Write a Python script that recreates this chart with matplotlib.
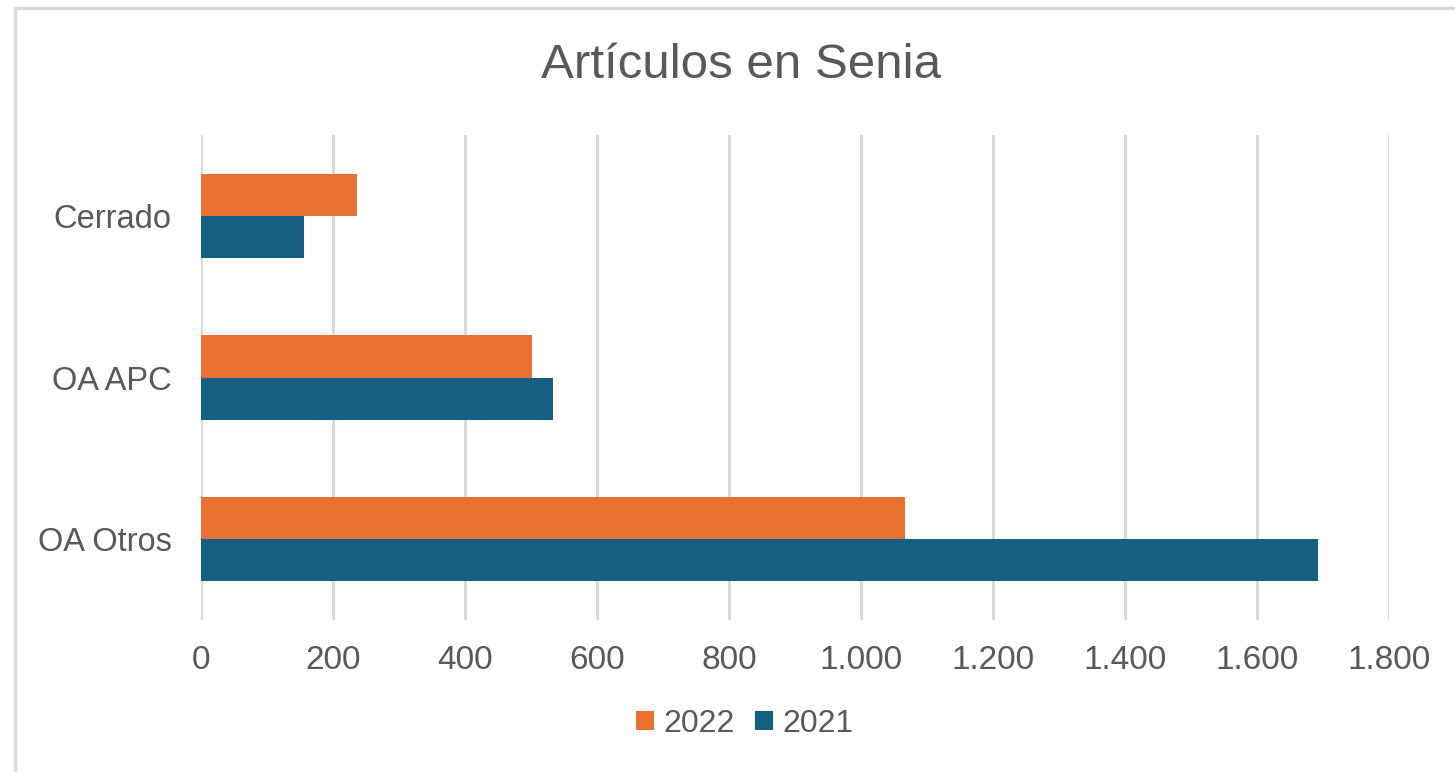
import matplotlib
matplotlib.use("Agg")
import matplotlib.pyplot as plt
import numpy as np
from matplotlib.patches import Rectangle

categories = ["OA Otros", "OA APC", "Cerrado"]
values_2022 = [1067, 501, 236]
values_2021 = [1692, 533, 156]
series_labels = ["2022", "2021"]
xticks = [0, 200, 400, 600, 800, 1000, 1200, 1400, 1600, 1800]
xtick_labels = ["0", "200", "400", "600", "800", "1.000", "1.200", "1.400", "1.600", "1.800"]

orange = "#E97132"
blue = "#156082"
text_color = "#595959"
grid_color = "#D9D9D9"

plt.rcParams['font.family'] = ['Liberation Sans', 'DejaVu Sans']

fig = plt.figure(figsize=(14.55, 7.72), dpi=100)
ax = fig.add_axes([201/1455, 1-620/772, (1389-201)/1455, (620-135)/772])

y = np.arange(len(categories))
h = 0.26
ax.barh(y + h/2, values_2022, height=h, color=orange, label=series_labels[0], zorder=3)
ax.barh(y - h/2, values_2021, height=h, color=blue, label=series_labels[1], zorder=3)

ax.set_xlim(0, 1800)
ax.set_ylim(-0.5, 2.5)
ax.set_xticks(xticks)
ax.set_xticklabels(xtick_labels)
ax.set_yticks(y)
ax.set_yticklabels(categories)
ax.tick_params(axis='x', length=0, pad=18, labelsize=24, labelcolor=text_color)
ax.tick_params(axis='y', length=0, pad=21, labelsize=23.5, labelcolor=text_color)
ax.xaxis.grid(True, color=grid_color, linewidth=2.2, zorder=0)
ax.yaxis.grid(False)
for s in ax.spines.values():
    s.set_visible(False)

fig.text(741/1455, 1-66/772, "Artículos en Senia", ha='center', va='center',
         fontsize=35.5, color=text_color)

leg = fig.legend(loc='center', bbox_to_anchor=(745/1455, 1-724/772), ncol=2,
                 frameon=False, fontsize=23, handlelength=0.55, handleheight=0.55,
                 handletextpad=0.3, columnspacing=0.65, labelcolor=text_color)

# outer frame (cropped)
fig.patches.append(Rectangle((15/1455, -0.1), 1.2, 1 - 8/772 + 0.1,
                             transform=fig.transFigure, fill=False,
                             edgecolor=grid_color, linewidth=2.5))

fig.savefig("out.png", dpi=100)
